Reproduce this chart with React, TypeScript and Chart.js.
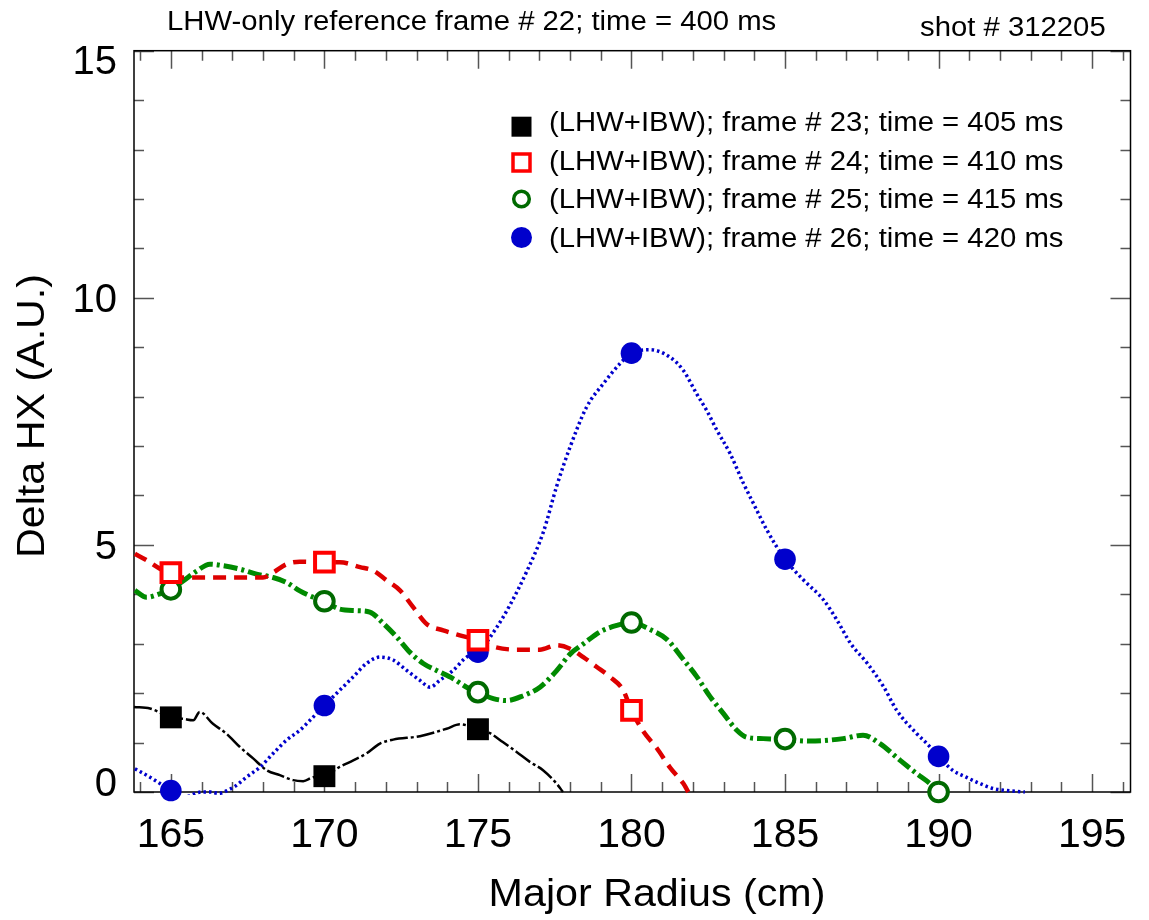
import React, { useEffect, useRef } from "react";
import { Chart, registerables } from "chart.js";

Chart.register(...registerables);

const FONT = '"Liberation Sans", Arial, Helvetica, sans-serif';

const titleText = "LHW-only reference frame # 22; time = 400 ms";
const shotText = "shot # 312205";
const xAxisTitle = "Major Radius (cm)";
const yAxisTitle = "Delta HX (A.U.)";
const legendLabels = [
  "(LHW+IBW); frame # 23; time = 405 ms",
  "(LHW+IBW); frame # 24; time = 410 ms",
  "(LHW+IBW); frame # 25; time = 415 ms",
  "(LHW+IBW); frame # 26; time = 420 ms",
];

const xTickValues = [165, 170, 175, 180, 185, 190, 195];
const yTickValues = [0, 5, 10, 15];

// measured points (markers)
const markerX23 = [165, 170, 175];
const markerY23 = [1.51, 0.32, 1.27];
const markerX24 = [165, 170, 175, 180];
const markerY24 = [4.44, 4.65, 3.07, 1.65];
const markerX25 = [165, 170, 175, 180, 185, 190];
const markerY25 = [4.1, 3.86, 2.02, 3.43, 1.07, 0.0];
const markerX26 = [165, 170, 175, 180, 185, 190];
const markerY26 = [0.03, 1.75, 2.83, 8.88, 4.71, 0.72];

// fitted profiles
const curveX23 = [163.8, 164.32, 165.0, 165.4, 165.73, 165.94, 166.37, 166.81, 167.25, 167.68, 168.12, 168.55, 168.98, 169.31, 169.64, 170.0, 170.5, 170.94, 171.37, 171.81, 172.24, 173.11, 173.98, 174.41, 175.0, 175.39, 175.81, 176.26, 176.69, 177.12, 177.56, 177.77];
const curveY23 = [1.72, 1.69, 1.51, 1.48, 1.45, 1.62, 1.38, 1.18, 0.91, 0.68, 0.44, 0.34, 0.24, 0.22, 0.3, 0.32, 0.51, 0.64, 0.78, 0.98, 1.06, 1.13, 1.28, 1.37, 1.27, 1.19, 1.01, 0.81, 0.61, 0.44, 0.17, 0.0];

const curveX24 = [163.83, 164.21, 164.64, 165.0, 165.4, 166.5, 167.5, 168.0, 168.33, 168.77, 169.2, 170.0, 170.5, 171.16, 171.59, 172.03, 172.46, 172.89, 173.33, 173.87, 174.41, 175.0, 175.5, 176.26, 177.02, 177.56, 178.0, 178.43, 178.87, 179.3, 179.73, 180.0, 180.38, 180.82, 181.25, 181.69, 181.85];
const curveY24 = [4.82, 4.69, 4.52, 4.44, 4.34, 4.34, 4.34, 4.34, 4.44, 4.61, 4.66, 4.65, 4.65, 4.55, 4.48, 4.28, 4.08, 3.74, 3.4, 3.27, 3.17, 3.07, 2.94, 2.88, 2.88, 2.97, 2.9, 2.73, 2.53, 2.33, 2.06, 1.65, 1.23, 0.89, 0.5, 0.17, 0.0];

const curveX25 = [163.83, 164.21, 164.64, 165.0, 165.4, 165.84, 166.27, 166.7, 167.25, 167.79, 168.33, 168.77, 169.2, 169.64, 170.0, 170.5, 171.05, 171.48, 171.92, 172.35, 172.78, 173.22, 173.65, 174.2, 174.63, 175.0, 175.5, 175.94, 176.48, 177.02, 177.57, 178.0, 178.44, 178.97, 179.52, 180.0, 180.6, 181.15, 181.69, 182.12, 182.56, 182.99, 183.43, 183.75, 184.29, 185.0, 185.81, 186.89, 187.54, 188.09, 188.75, 189.29, 189.72, 190.0];
const curveY25 = [4.08, 3.94, 4.01, 4.1, 4.27, 4.47, 4.61, 4.58, 4.51, 4.41, 4.34, 4.24, 4.07, 3.94, 3.86, 3.7, 3.67, 3.64, 3.41, 3.14, 2.83, 2.6, 2.46, 2.29, 2.12, 2.02, 1.89, 1.85, 1.95, 2.12, 2.46, 2.79, 3.0, 3.24, 3.37, 3.43, 3.29, 3.09, 2.68, 2.34, 1.93, 1.59, 1.25, 1.11, 1.08, 1.06, 1.03, 1.08, 1.15, 0.98, 0.64, 0.37, 0.17, 0.0];

const curveX26 = [163.83, 164.32, 164.75, 165.0, 165.45, 166.0, 166.3, 166.55, 166.9, 167.1, 167.46, 167.9, 168.33, 168.77, 169.2, 169.64, 170.0, 170.5, 170.94, 171.37, 171.81, 172.24, 172.68, 173.11, 173.44, 173.76, 174.19, 174.63, 175.0, 175.62, 176.04, 176.58, 177.13, 177.56, 178.0, 178.54, 179.08, 179.63, 180.0, 180.6, 181.25, 181.69, 182.12, 182.45, 182.78, 183.21, 183.65, 183.97, 184.41, 185.0, 185.6, 186.25, 186.69, 187.13, 187.67, 188.2, 188.64, 189.29, 189.62, 190.0, 190.46, 190.9, 191.35, 191.78, 192.22, 192.81];
const curveY26 = [0.47, 0.3, 0.13, 0.03, -0.1, 0.0, 0.0, -0.03, 0.05, 0.12, 0.3, 0.5, 0.78, 1.05, 1.25, 1.52, 1.75, 2.06, 2.33, 2.6, 2.73, 2.67, 2.46, 2.26, 2.12, 2.26, 2.46, 2.73, 2.83, 3.34, 3.78, 4.45, 5.26, 6.18, 6.98, 7.79, 8.26, 8.67, 8.88, 8.95, 8.8, 8.53, 8.06, 7.72, 7.32, 6.85, 6.24, 5.84, 5.3, 4.71, 4.29, 3.89, 3.48, 3.01, 2.61, 2.14, 1.65, 1.18, 0.98, 0.72, 0.44, 0.3, 0.17, 0.07, 0.03, 0.0];

const zip = (xs: number[], ys: number[]) => xs.map((x, i) => ({ x, y: ys[i] }));

const STRETCH = 1.085;

function drawText(
  ctx: CanvasRenderingContext2D,
  text: string,
  x: number,
  y: number,
  size: number,
  align: CanvasTextAlign,
  rot = 0,
  stretch = STRETCH,
  baseline: CanvasTextBaseline = "alphabetic"
) {
  ctx.save();
  ctx.translate(x, y);
  if (rot) ctx.rotate(rot);
  ctx.scale(stretch, 1);
  ctx.font = `${size}px ${FONT}`;
  ctx.textAlign = align;
  ctx.textBaseline = baseline;
  ctx.fillStyle = "#000";
  ctx.fillText(text, 0, 0);
  ctx.restore();
}

const framePlugin = {
  id: "frameTicks",
  beforeDatasetsDraw(chart: any) {
    const ctx: CanvasRenderingContext2D = chart.ctx;
    const { left, right, top, bottom } = chart.chartArea;
    const xs = chart.scales.x;
    const ys = chart.scales.y;
    ctx.save();
    ctx.strokeStyle = "#555";
    ctx.lineWidth = 1.5;
    ctx.beginPath();
    for (let v = Math.ceil(xs.min); v <= xs.max; v++) {
      const px = Math.round(xs.getPixelForValue(v)) + 0.5;
      const len = v % 5 === 0 ? 18 : 10;
      ctx.moveTo(px, bottom);
      ctx.lineTo(px, bottom - len);
      ctx.moveTo(px, top);
      ctx.lineTo(px, top + len);
    }
    for (let v = Math.ceil(ys.min); v <= ys.max; v++) {
      const py = Math.round(ys.getPixelForValue(v)) + 0.5;
      const len = v % 5 === 0 ? 20 : 10;
      ctx.moveTo(left, py);
      ctx.lineTo(left + len, py);
      ctx.moveTo(right, py);
      ctx.lineTo(right - len, py);
    }
    ctx.stroke();
    ctx.strokeStyle = "#000";
    ctx.lineWidth = 1.5;
    ctx.strokeRect(left, top, right - left, bottom - top);
    ctx.restore();
  },
  afterDraw(chart: any) {
    const ctx: CanvasRenderingContext2D = chart.ctx;
    const { left, top, bottom } = chart.chartArea;
    const ys = chart.scales.y;
    ctx.save();

    // y tick labels (kept inside the axis range at the ends)
    yTickValues.forEach((v) => {
      let cy = ys.getPixelForValue(v) + 3;
      cy = Math.max(cy, top + 12);
      cy = Math.min(cy, bottom - 7);
      drawText(ctx, String(v), left - 17, cy, 40, "right", 0, 1, "middle");
    });

    drawText(ctx, titleText, 167, 30, 27, "left");
    drawText(ctx, shotText, 920, 36, 27, "left");
    drawText(ctx, xAxisTitle, 657, 906, 38, "center");
    drawText(ctx, yAxisTitle, 44, 416, 38, "center", -Math.PI / 2);

    // legend
    const mx = 521.5;
    const tx = 549;
    const my = [126.7, 162.5, 199, 237.5];
    const ty = [131, 170, 208, 246.5];
    ctx.fillStyle = "#000";
    ctx.fillRect(mx - 10, my[0] - 10, 20, 20);
    ctx.fillStyle = "#fff";
    ctx.strokeStyle = "#ff0000";
    ctx.lineWidth = 3.5;
    ctx.fillRect(mx - 8.5, my[1] - 8.5, 17, 17);
    ctx.strokeRect(mx - 8.5, my[1] - 8.5, 17, 17);
    ctx.strokeStyle = "#006a00";
    ctx.beginPath();
    ctx.arc(mx, my[2], 7.8, 0, Math.PI * 2);
    ctx.fill();
    ctx.stroke();
    ctx.fillStyle = "#0000cc";
    ctx.beginPath();
    ctx.arc(mx, my[3], 10.5, 0, Math.PI * 2);
    ctx.fill();
    legendLabels.forEach((t, i) => drawText(ctx, t, tx, ty[i], 27, "left"));
    ctx.restore();
  },
};

export default function App() {
  const ref = useRef<HTMLCanvasElement | null>(null);
  useEffect(() => {
    document.body.style.margin = "0";
    const canvas = ref.current;
    if (!canvas) return;
    const lineCommon = {
      pointRadius: 0,
      showLine: true,
      cubicInterpolationMode: "monotone" as const,
      order: 10,
      clip: 3,
      fill: false,
    };
    const chart = new Chart(canvas, {
      type: "scatter",
      data: {
        datasets: [
          {
            ...lineCommon,
            label: "fit23",
            data: zip(curveX23, curveY23),
            borderColor: "#000",
            borderWidth: 2.5,
            borderDash: [18, 3, 3, 3],
          },
          {
            ...lineCommon,
            label: "fit24",
            data: zip(curveX24, curveY24),
            borderColor: "#dd0000",
            borderWidth: 4.5,
            borderDash: [13, 8],
          },
          {
            ...lineCommon,
            label: "fit25",
            data: zip(curveX25, curveY25),
            borderColor: "#008a00",
            borderWidth: 5,
            borderDash: [14, 4, 3, 4],
          },
          {
            ...lineCommon,
            label: "fit26",
            data: zip(curveX26, curveY26),
            borderColor: "#0000cc",
            borderWidth: 3.5,
            borderDash: [2.5, 3],
          },
          {
            label: legendLabels[0],
            data: zip(markerX23, markerY23),
            showLine: false,
            pointStyle: "rect",
            pointRadius: 15.5,
            backgroundColor: "#000",
            borderColor: "#000",
            borderWidth: 0,
            order: 1,
            clip: false,
          },
          {
            label: legendLabels[1],
            data: zip(markerX24, markerY24),
            showLine: false,
            pointStyle: "rect",
            pointRadius: 13.2,
            backgroundColor: "#fff",
            borderColor: "#ff0000",
            borderWidth: 4,
            order: 2,
            clip: false,
          },
          {
            label: legendLabels[2],
            data: zip(markerX25, markerY25),
            showLine: false,
            pointStyle: "circle",
            pointRadius: 9.3,
            backgroundColor: "#fff",
            borderColor: "#006a00",
            borderWidth: 4,
            order: 3,
            clip: false,
          },
          {
            label: legendLabels[3],
            data: zip(markerX26, markerY26),
            showLine: false,
            pointStyle: "circle",
            pointRadius: 10.8,
            backgroundColor: "#0000cc",
            borderColor: "#0000cc",
            borderWidth: 0,
            order: 4,
            clip: false,
          },
        ],
      },
      options: {
        responsive: false,
        animation: false,
        events: [],
        layout: { padding: { top: 50.7, right: 18.5, left: 0, bottom: 0 } },
        plugins: {
          legend: { display: false },
          title: { display: false },
          tooltip: { enabled: false },
        },
        scales: {
          x: {
            type: "linear",
            min: 163.8,
            max: 196.25,
            afterBuildTicks: (s: any) => {
              s.ticks = xTickValues.map((v) => ({ value: v }));
            },
            afterFit: (s: any) => {
              s.height = 128;
            },
            grid: { display: false, drawTicks: false },
            border: { display: false },
            ticks: {
              font: { size: 41, family: FONT },
              color: "#000",
              padding: 19,
              maxRotation: 0,
              autoSkip: false,
            },
          },
          y: {
            type: "linear",
            min: 0,
            max: 15,
            afterBuildTicks: (s: any) => {
              s.ticks = yTickValues.map((v) => ({ value: v }));
            },
            afterFit: (s: any) => {
              s.width = 134;
            },
            grid: { display: false, drawTicks: false },
            border: { display: false },
            ticks: { display: false },
          },
        },
      },
      plugins: [framePlugin],
    } as any);
    return () => chart.destroy();
  }, []);
  return (
    <canvas
      ref={ref}
      width={1149}
      height={920}
      style={{ display: "block", width: 1149, height: 920 }}
    />
  );
}
